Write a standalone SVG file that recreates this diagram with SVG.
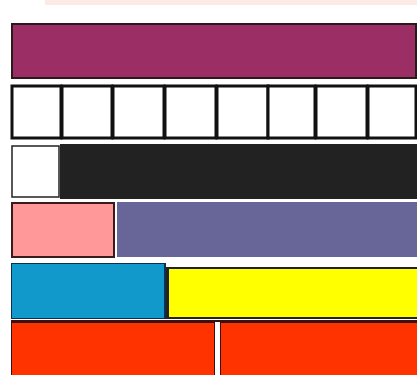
<svg xmlns="http://www.w3.org/2000/svg" width="417" height="375" viewBox="0 0 417 375">
<style>
.b{stroke:#2a1a1a;stroke-width:2}
.w{fill:#ffffff;stroke:#111;stroke-width:3}
</style>
<rect x="0" y="0" width="417" height="375" fill="#ffffff"/>
<rect x="45" y="0" width="372" height="5" fill="#fcebe4"/>
<g id="row1">
<rect class="b" x="12" y="24" width="404" height="54" fill="#9c2e66"/>
</g>
<g id="row2">
<rect class="w" x="12" y="86" width="49" height="52"/>
<rect class="w" x="62" y="86" width="50" height="52"/>
<rect class="w" x="113" y="86" width="51" height="52"/>
<rect class="w" x="165" y="86" width="51" height="52"/>
<rect class="w" x="217" y="86" width="51" height="52"/>
<rect class="w" x="268" y="86" width="47" height="52"/>
<rect class="w" x="316" y="86" width="51" height="52"/>
<rect class="w" x="368" y="86" width="48" height="52"/>
</g>
<g id="row3">
<rect x="60" y="144" width="357" height="55" fill="#222222"/>
<rect x="12" y="146" width="47" height="51" fill="#ffffff" stroke="#222" stroke-width="1.5"/>
</g>
<g id="row4">
<rect x="11" y="202" width="104" height="56" fill="#3a1a1a"/>
<rect x="13" y="204" width="100" height="52" fill="#ff9999"/>
<rect x="117" y="202" width="300" height="55" fill="#686699"/>
</g>
<g id="row5">
<rect x="11" y="263" width="155" height="56" fill="#0d3050"/>
<rect x="12" y="264" width="152" height="54" fill="#1199cc"/>
<rect x="166" y="267" width="251" height="52" fill="#222"/>
<rect x="169" y="269" width="248" height="48" fill="#ffff00"/>
</g>
<g id="row6">
<rect x="11" y="320" width="406" height="55" fill="#3a1010"/>
<rect x="12" y="323" width="202" height="52" fill="#ff3300"/>
<rect x="221" y="323" width="196" height="52" fill="#ff3300"/>
<rect x="215" y="322" width="5" height="53" fill="#ffffff"/>
</g>
</svg>
